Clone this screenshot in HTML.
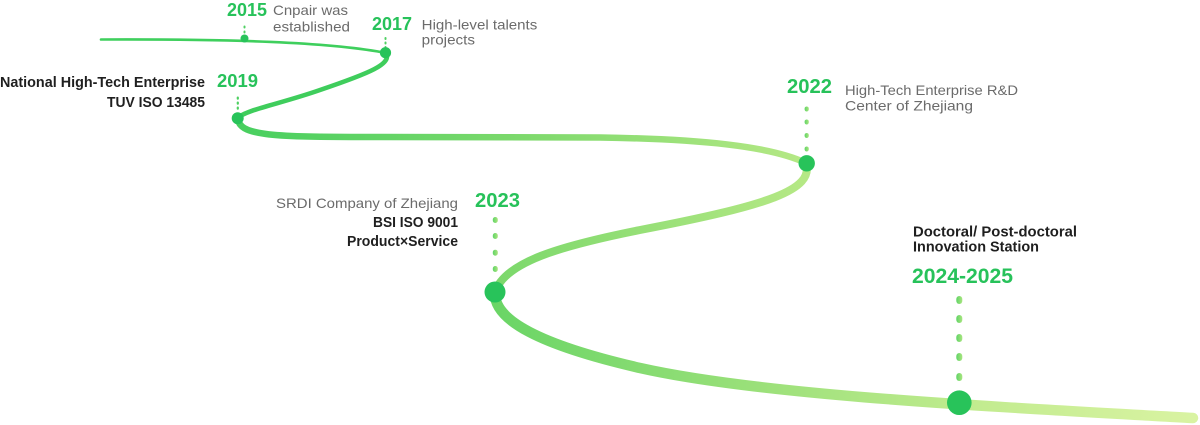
<!DOCTYPE html>
<html><head><meta charset="utf-8"><style>
html,body{margin:0;padding:0;background:#fff;}
svg{display:block;}
text{font-family:"Liberation Sans",sans-serif;}
.y{fill:#27c25a;font-weight:bold;}
.g{fill:#6b6b6b;font-size:14px;}
.b{fill:#1f1f1f;font-size:14.3px;font-weight:bold;}
</style></head><body>
<svg width="1200" height="425" viewBox="0 0 1200 425" xmlns="http://www.w3.org/2000/svg">
<defs>
<linearGradient id="g3" gradientUnits="userSpaceOnUse" x1="240" y1="0" x2="806" y2="0">
<stop offset="0" stop-color="#48cf5f"/><stop offset="0.5" stop-color="#7dd96c"/><stop offset="1" stop-color="#b5e885"/></linearGradient>
<linearGradient id="g4" gradientUnits="userSpaceOnUse" x1="806" y1="0" x2="495" y2="0">
<stop offset="0" stop-color="#b5e885"/><stop offset="1" stop-color="#7bd86b"/></linearGradient>
<linearGradient id="g5" gradientUnits="userSpaceOnUse" x1="495" y1="0" x2="1195" y2="0">
<stop offset="0" stop-color="#6ad566"/><stop offset="0.4" stop-color="#9ee17b"/><stop offset="0.7" stop-color="#c3ec90"/><stop offset="1" stop-color="#d9f3a2"/></linearGradient>
<linearGradient id="gd" x1="0" y1="0" x2="1" y2="0">
<stop offset="0" stop-color="#5fd366"/><stop offset="1" stop-color="#a9e57f"/></linearGradient>
</defs>

<!-- path segments -->
<path d="M101,39.5 C230,39 330,42 386,53" fill="none" stroke="#3fcf5d" stroke-width="2.6" stroke-linecap="round"/>
<path d="M386,53 C392,64 370,73 320,90 C280,104 245,110 238,118" fill="none" stroke="#3fcd5c" stroke-width="4.6" stroke-linecap="round"/>
<path d="M238,118 C238,135 270,137 360,137 L600,137.5 C700,139 770,146 806,163" fill="none" stroke="url(#g3)" stroke-width="6.5" stroke-linecap="round"/>
<path d="M806,163 C814,190 770,205 640,230 C560,246 505,262 495,292" fill="none" stroke="url(#g4)" stroke-width="8" stroke-linecap="round"/>
<path d="M495,292 C493,320 540,345 640,368 C760,395 980,406 1193,418" fill="none" stroke="url(#g5)" stroke-width="10.5" stroke-linecap="round"/>

<!-- dotted connectors -->
<g fill="#4fd062">
<rect x="243.5" y="25.5" width="2" height="3" rx="1"/>
<rect x="243.5" y="30.5" width="2" height="3" rx="1"/>
<rect x="384.5" y="37" width="2" height="3" rx="1"/>
<rect x="384.5" y="41.5" width="2" height="3" rx="1"/>
<rect x="384.5" y="46" width="2" height="3" rx="1"/>
<rect x="236.7" y="96.5" width="2.2" height="3.2" rx="1.1"/>
<rect x="236.7" y="101.5" width="2.2" height="3.2" rx="1.1"/>
<rect x="236.7" y="106.5" width="2.2" height="3.2" rx="1.1"/>
</g>
<g fill="url(#gd)">
<rect x="804.6" y="106.5" width="4.2" height="5" rx="2.1"/>
<rect x="804.6" y="119.5" width="4.2" height="5" rx="2.1"/>
<rect x="804.6" y="133" width="4.2" height="5" rx="2.1"/>
<rect x="804.6" y="146.5" width="4.2" height="5" rx="2.1"/>
<rect x="492.8" y="217" width="5" height="6" rx="2.5"/>
<rect x="492.8" y="233" width="5" height="6" rx="2.5"/>
<rect x="492.8" y="249.7" width="5" height="6" rx="2.5"/>
<rect x="492.8" y="266" width="5" height="6" rx="2.5"/>
<rect x="956.3" y="296" width="6" height="8" rx="3"/>
<rect x="956.3" y="315" width="6" height="8" rx="3"/>
<rect x="956.3" y="334" width="6" height="8" rx="3"/>
<rect x="956.3" y="353" width="6" height="8" rx="3"/>
<rect x="956.3" y="373" width="6" height="8" rx="3"/>
</g>

<!-- main dots -->
<g fill="#28c35a">
<circle cx="244.5" cy="38.5" r="4"/>
<circle cx="385.5" cy="52.7" r="5.6"/>
<circle cx="237.7" cy="118.3" r="6"/>
<circle cx="806.7" cy="163.3" r="8.2"/>
<circle cx="495" cy="292" r="10.5"/>
<circle cx="959.3" cy="402.7" r="12.3"/>
</g>

<!-- labels -->
<text class="y" x="227" y="16" font-size="18" textLength="40" lengthAdjust="spacingAndGlyphs">2015</text>
<text class="g" x="273" y="15" textLength="75" lengthAdjust="spacingAndGlyphs">Cnpair was</text>
<text class="g" x="273" y="31.5" textLength="77" lengthAdjust="spacingAndGlyphs">established</text>

<text class="y" x="372" y="30" font-size="18" textLength="40" lengthAdjust="spacingAndGlyphs">2017</text>
<text class="g" x="421.7" y="29.5" textLength="115.6" lengthAdjust="spacingAndGlyphs">High-level talents</text>
<text class="g" x="421.7" y="44.3" textLength="53.3" lengthAdjust="spacingAndGlyphs">projects</text>

<text class="b" x="0" y="87" textLength="205" lengthAdjust="spacingAndGlyphs">National High-Tech Enterprise</text>
<text class="b" x="107" y="107" textLength="98" lengthAdjust="spacingAndGlyphs">TUV ISO 13485</text>
<text class="y" x="217" y="87" font-size="18" textLength="41" lengthAdjust="spacingAndGlyphs">2019</text>

<text class="y" x="787" y="93" font-size="20" textLength="45" lengthAdjust="spacingAndGlyphs">2022</text>
<text class="g" x="845" y="95" textLength="173" lengthAdjust="spacingAndGlyphs">High-Tech Enterprise R&amp;D</text>
<text class="g" x="845" y="110.5" textLength="128" lengthAdjust="spacingAndGlyphs">Center of Zhejiang</text>

<text class="g" x="276" y="208" textLength="182" lengthAdjust="spacingAndGlyphs">SRDI Company of Zhejiang</text>
<text class="b" x="373" y="227" textLength="85" lengthAdjust="spacingAndGlyphs">BSI ISO 9001</text>
<text class="b" x="347" y="246" textLength="111" lengthAdjust="spacingAndGlyphs">Product×Service</text>
<text class="y" x="475" y="207" font-size="20" textLength="45" lengthAdjust="spacingAndGlyphs">2023</text>

<text class="b" x="913" y="236.5" textLength="164" lengthAdjust="spacingAndGlyphs">Doctoral/ Post-doctoral</text>
<text class="b" x="913" y="251.5" textLength="126" lengthAdjust="spacingAndGlyphs">Innovation Station</text>
<text class="y" x="912" y="283" font-size="21" textLength="101" lengthAdjust="spacingAndGlyphs">2024-2025</text>
</svg>
</body></html>
